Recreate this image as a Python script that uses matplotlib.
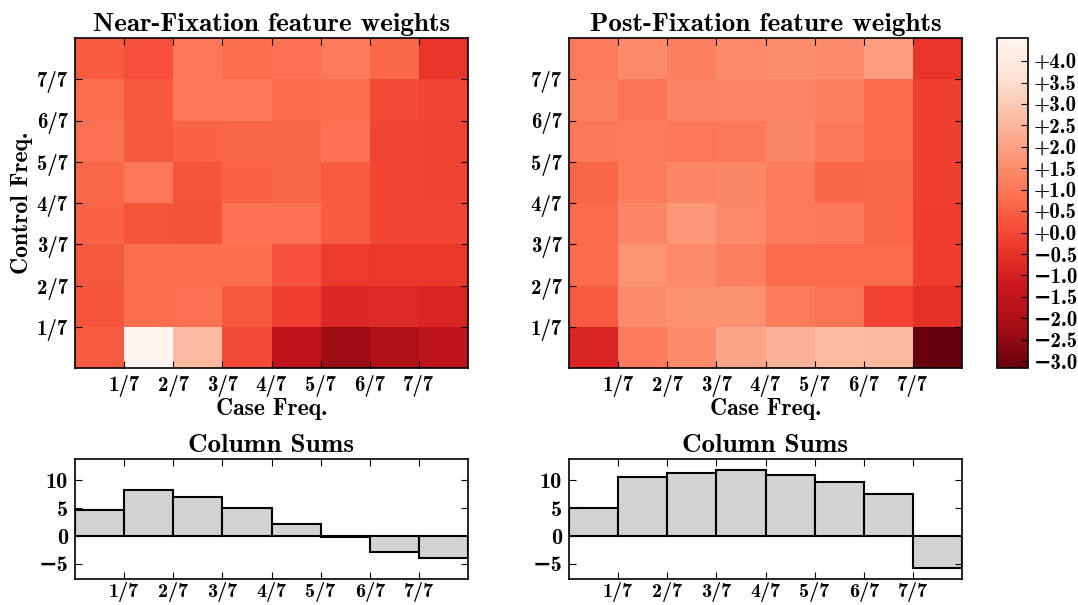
import matplotlib
matplotlib.use("Agg")
import matplotlib.pyplot as plt
import numpy as np

plt.rcParams.update({
    "font.family": ["cmb10", "DejaVu Serif"],
    "font.weight": "bold",
    "axes.unicode_minus": True,
    "xtick.direction": "in",
    "ytick.direction": "in",
    "xtick.top": True,
    "ytick.right": True,
    "xtick.major.size": 5,
    "ytick.major.size": 5,
    "axes.linewidth": 1.2,
})

freq_labels = ["1/7", "2/7", "3/7", "4/7", "5/7", "6/7", "7/7"]

# rows: control freq bin 0 (bottom) .. 7 (top); columns: case freq bin 0..7
near_weights = [
    [0.40, 4.50, 2.60, 0.05, -1.60, -2.30, -1.95, -1.55],
    [0.25, 0.80, 0.85, 0.35, -0.20, -0.80, -0.75, -0.90],
    [0.35, 0.80, 0.80, 0.80, 0.15, -0.30, -0.35, -0.35],
    [0.55, 0.25, 0.20, 0.90, 0.90, 0.40, -0.05, -0.05],
    [0.65, 1.00, 0.25, 0.55, 0.60, 0.40, -0.05, -0.10],
    [0.90, 0.35, 0.55, 0.60, 0.60, 0.85, -0.05, -0.10],
    [0.80, 0.35, 1.00, 1.00, 0.75, 0.80, 0.05, -0.05],
    [0.40, 0.15, 1.00, 0.80, 0.90, 1.10, 0.65, -0.45],
]
post_weights = [
    [-0.85, 1.10, 1.50, 2.10, 2.40, 2.60, 2.55, -3.16],
    [0.40, 1.50, 1.60, 1.60, 1.10, 0.95, -0.15, -0.55],
    [0.75, 1.70, 1.50, 1.20, 0.75, 0.70, 0.70, -0.25],
    [0.75, 1.35, 1.75, 1.45, 1.10, 1.05, 0.65, -0.25],
    [0.60, 1.10, 1.35, 1.40, 1.10, 0.60, 0.65, -0.20],
    [1.05, 1.10, 1.00, 1.05, 1.40, 1.05, 0.70, -0.20],
    [1.20, 0.95, 1.30, 1.35, 1.35, 1.25, 0.70, -0.20],
    [1.10, 1.50, 1.20, 1.45, 1.55, 1.50, 1.90, -0.45],
]
near_col_sums = [4.58, 8.21, 6.96, 4.94, 2.08, -0.18, -2.92, -3.87]
post_col_sums = [5.0, 10.65, 11.3, 11.8, 10.9, 9.76, 7.56, -5.65]

vmin, vmax = -3.16, 4.54
cbar_ticks = np.arange(-3.0, 4.01, 0.5)
bar_ticks = [-5, 0, 5, 10]

W, H = 1078, 605
fig = plt.figure(figsize=(W / 100, H / 100), dpi=100)


def _ax(x0, y0, x1, y1):
    return fig.add_axes([x0 / W, 1 - y1 / H, (x1 - x0) / W, (y1 - y0) / H])


def _num(s):
    return s.replace("-", "\u2212")


heat_axes = [_ax(75, 38, 468, 368), _ax(569, 38, 962, 368)]
bar_axes = [_ax(75, 459, 468, 579), _ax(569, 459, 962, 579)]
cax = _ax(997, 38, 1028, 368)

titles = ["Near-Fixation feature weights", "Post-Fixation feature weights"]
edges = np.arange(9)
for i, (ax, data) in enumerate(zip(heat_axes, [near_weights, post_weights])):
    mesh = ax.pcolormesh(edges, edges, np.array(data), cmap="Reds_r",
                         vmin=vmin, vmax=vmax)
    ax.set_xlim(0, 8)
    ax.set_ylim(0, 8)
    ax.set_xticks(range(1, 8))
    ax.set_xticklabels(freq_labels, fontsize=15)
    ax.set_yticks(range(1, 8))
    ax.set_yticklabels(freq_labels, fontsize=15)
    ax.tick_params(pad=5)
    ax.set_title(titles[i], fontsize=19.5, pad=5)
    ax.set_xlabel("Case Freq.", fontsize=17, labelpad=1)
    if i == 0:
        ax.set_ylabel("Control Freq.", fontsize=17, labelpad=3)

cb = fig.colorbar(mesh, cax=cax, ticks=cbar_ticks)
cb.ax.tick_params(direction="in", length=5, pad=4)
cb.ax.set_yticklabels([_num("%+.1f" % t) for t in cbar_ticks], fontsize=15)
cb.outline.set_linewidth(1.2)

for ax, sums in zip(bar_axes, [near_col_sums, post_col_sums]):
    ax.bar(np.arange(8), sums, width=1.0, align="edge",
           color="#d3d3d3", edgecolor="black", linewidth=1.5)
    ax.set_xlim(0, 8)
    ax.set_ylim(-7.7, 13.8)
    ax.set_xticks(range(1, 8))
    ax.set_xticklabels(freq_labels, fontsize=14.5)
    ax.tick_params(axis="x", pad=2)
    ax.set_yticks(bar_ticks)
    ax.set_yticklabels([_num(str(t)) for t in bar_ticks], fontsize=16)
    ax.tick_params(axis="y", pad=5)
    ax.set_title("Column Sums", fontsize=19.5, pad=5)

fig.savefig("out.png", dpi=100)
